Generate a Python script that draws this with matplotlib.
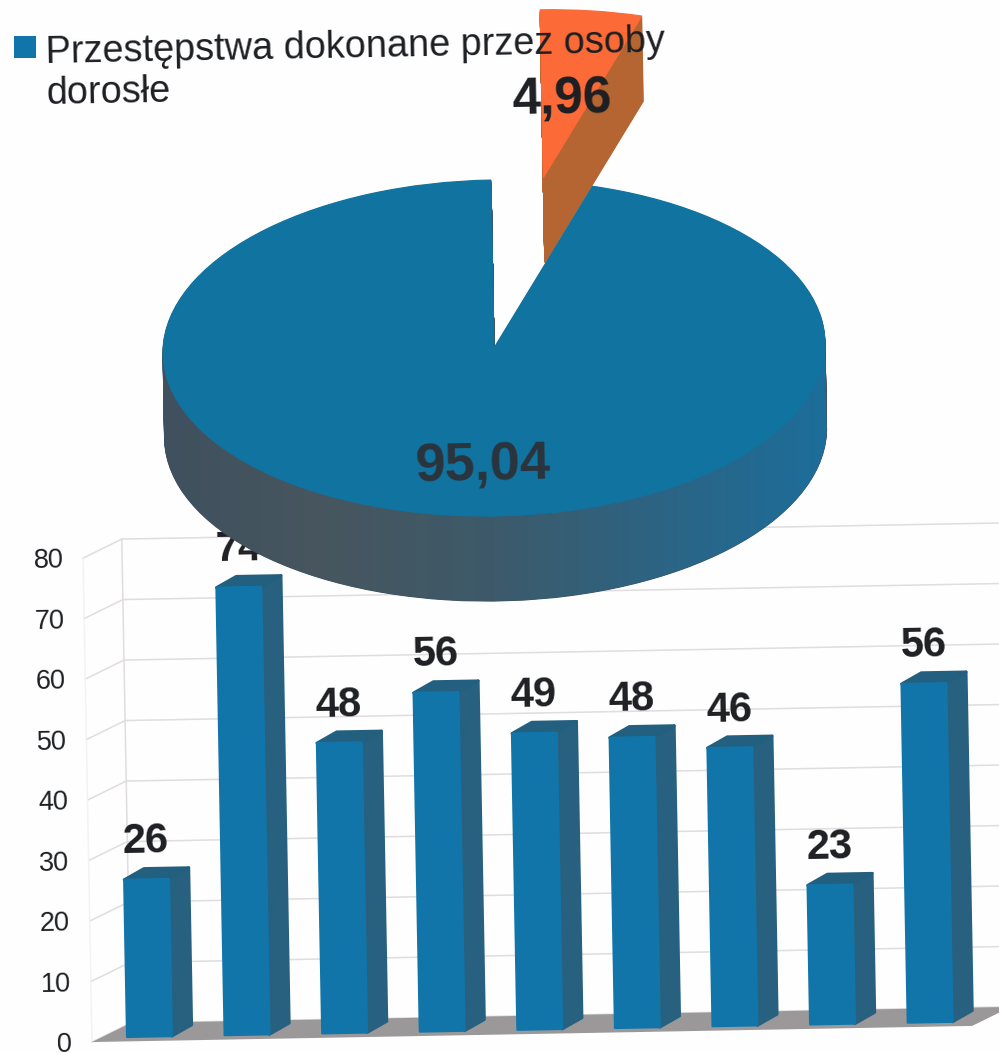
import matplotlib
matplotlib.use("Agg")
import numpy as np
import matplotlib.pyplot as plt
from matplotlib.colors import LinearSegmentedColormap
from matplotlib.patches import Polygon, Rectangle
from matplotlib.transforms import Affine2D

plt.rcParams['font.family'] = ['Liberation Sans', 'DejaVu Sans']

# pie chart
pie_values = [4.96, 95.04]
pie_labels = ['4,96', '95,04']
legend_lines = ['Przestępstwa dokonane przez osoby', 'dorosłe']

# bar chart
bar_values = [26, 74, 48, 56, 49, 48, 46, 23, 56]
bar_labels = ['26', '74', '48', '56', '49', '48', '46', '23', '56']
y_ticks = [0, 10, 20, 30, 40, 50, 60, 70, 80]

W, H = 999, 1053
TILT = 1.05  # the whole page is scanned slightly crooked
BLUE = '#1275a9'
BLUE_DARK = '#27617f'
INK = '#1d1f23'

fig = plt.figure(figsize=(W / 100, H / 100), dpi=100, facecolor='#fefefe')

# ---- bars, x in categories and y in values
ax = fig.add_axes([0, 0, 1, 1], zorder=1)
ax.axis('off')
px_x, px_y = 97.6, 6.05
base_x, base_y = 127, 1037
ax.set_xlim(-base_x / px_x, (W - base_x) / px_x)
ax.set_ylim((base_y - H) / px_y, base_y / px_y)
ax.set_autoscale_on(False)
rot = Affine2D().rotate_deg_around(base_x, H - base_y, TILT)

wall_x, wall_y = 0.04, 2.3
front_x, front_y = -0.36, -0.73
end_x = 8.66
GRID = '#e0dcdf'

for t in y_ticks:
    ax.plot([front_x, wall_x, end_x + 0.4],
            [t + front_y, t + wall_y, t + wall_y], color=GRID, lw=1.1, zorder=1)
    ax.text(-0.56, t - 1.16, str(t), fontsize=19.5, ha='right', va='center',
            color=INK, rotation=TILT, zorder=5)
ax.plot([wall_x, wall_x], [wall_y, y_ticks[-1] + wall_y], color=GRID, lw=1.1, zorder=1)
ax.plot([front_x, front_x], [front_y, y_ticks[-1] + front_y], color='#f3f1f2', lw=1, zorder=1)

ax.fill([front_x, end_x, end_x + 0.4, wall_x],
        [front_y, front_y, wall_y, wall_y], color='#9b989a', lw=0, zorder=2)

bar_w, bar_dx, bar_dy = 0.46, 0.205, 1.8
for i, v in enumerate(bar_values):
    ax.fill([i + bar_w, i + bar_w + bar_dx, i + bar_w + bar_dx, i + bar_w],
            [0, bar_dy, v + bar_dy, v], color=BLUE_DARK, lw=2, joinstyle='round', zorder=3)
    ax.fill([i, i + bar_dx, i + bar_w + bar_dx, i + bar_w],
            [v, v + bar_dy, v + bar_dy, v], color='#235f7e', lw=2, joinstyle='round', zorder=3)
    ax.fill([i, i + bar_w, i + bar_w, i], [0, 0, v, v], color=BLUE, lw=1.5,
            joinstyle='round', zorder=4)
    ax.text(i + bar_w / 2, v + 6.2, bar_labels[i], fontsize=30, fontweight='bold',
            ha='center', va='center', color=INK, rotation=TILT, zorder=5)

for artist in ax.patches + ax.lines + ax.texts:
    artist.set_transform(ax.transData + rot)

# ---- pie, flattened by the axes scale and extruded downwards
pax = fig.add_axes([0, 0, 1, 1], zorder=2)
cx, cy, rx, ry = 494, 348, 331, 168
depth = 85
pie_rot = Affine2D().rotate_deg_around(cx, H - cy, TILT)


def draw_pie(offset, colors, z):
    wedges, _ = pax.pie(pie_values, explode=[1.02, 0], startangle=90, counterclock=False,
                        colors=colors, center=(0, -offset / ry), radius=1)
    for w, zz in zip(wedges, z):
        w.set_edgecolor(w.get_facecolor())
        w.set_linewidth(0.8)
        w.set_zorder(zz)
        w.set_clip_on(False)
        w.set_transform(pax.transData + pie_rot)


for d in range(depth, 0, -1):
    draw_pie(d, ['#b56531', '#40535f'], [2, 4])
draw_pie(0, ['#fb6a37', '#11739f'], [3, 6])

# shading of the rim, grey on the left to blue on the right
rim_cmap = LinearSegmentedColormap.from_list(
    'rim', ['#3f505e', '#47565f', '#3d5a6a', '#2c6484', '#1c6e9b'])
theta = np.linspace(np.pi, 2 * np.pi, 200)
rim_x = np.cos(theta)
rim_y = np.sin(theta)
rim_poly = np.column_stack([np.r_[rim_x, rim_x[::-1]],
                            np.r_[rim_y - depth / ry, rim_y[::-1] + 0.02]])
rim_img = pax.imshow(np.linspace(0, 1, 256).reshape(1, -1), cmap=rim_cmap, aspect='auto',
                     extent=(-1.02, 1.02, -1.6, 0.1), zorder=5)
rim_clip = Polygon(rim_poly, transform=pax.transData + pie_rot)
rim_img.set_clip_path(rim_clip)

pax.set_aspect('auto')
pax.set_xlim(-cx / rx, (W - cx) / rx)
pax.set_ylim((cy - H) / ry, cy / ry)
pax.axis('off')

pax.text(0.22, 1.47, pie_labels[0], fontsize=37, fontweight='bold', ha='center', va='center',
         color=INK, rotation=TILT, zorder=7, transform=pax.transData + pie_rot)
pax.text(-0.042, -0.70, pie_labels[1], fontsize=39, fontweight='bold', ha='center', va='center',
         color='#2b343d', rotation=TILT, zorder=7, transform=pax.transData + pie_rot)

# ---- legend
fig.add_artist(Rectangle((13.5 / W, 1 - 58 / H), 22 / W, 22 / H, transform=fig.transFigure,
                         facecolor=BLUE, edgecolor='none', zorder=6))
fig.text(46 / W, 1 - 63 / H, legend_lines[0], fontsize=27.3, color=INK, ha='left', va='baseline',
         rotation=TILT, rotation_mode='anchor', zorder=6)
fig.text(46 / W, 1 - 104 / H, legend_lines[1], fontsize=27.3, color=INK, ha='left', va='baseline',
         rotation=TILT, rotation_mode='anchor', zorder=6)

fig.savefig('out.png', dpi=100, facecolor=fig.get_facecolor())
